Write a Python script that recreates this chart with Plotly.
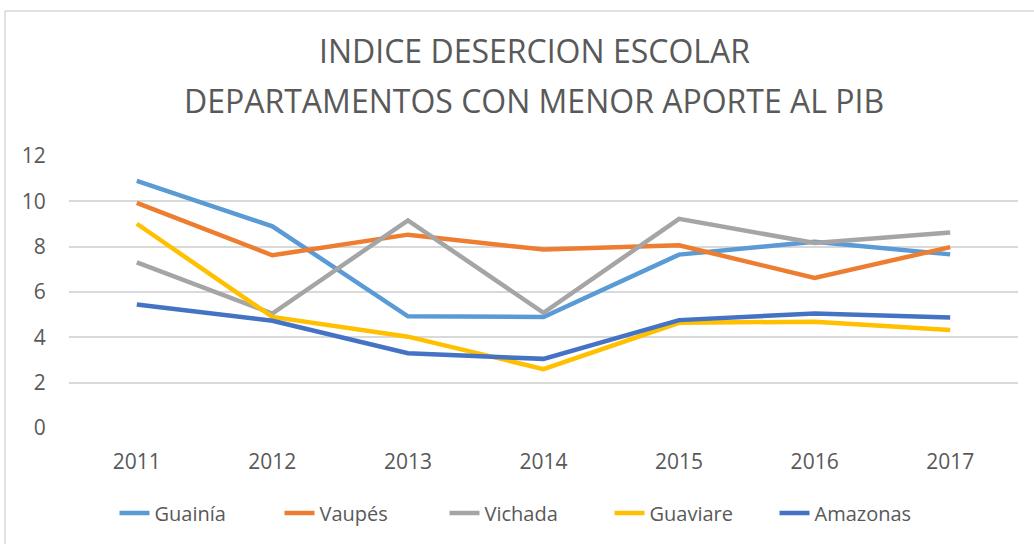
import plotly.graph_objects as go

years = ["2011", "2012", "2013", "2014", "2015", "2016", "2017"]
guainia = [10.9, 8.9, 4.93, 4.9, 7.65, 8.22, 7.66]
vaupes = [9.93, 7.62, 8.53, 7.87, 8.06, 6.62, 7.98]
vichada = [7.31, 5.05, 9.16, 5.08, 9.23, 8.16, 8.63]
guaviare = [9.01, 4.9, 4.03, 2.6, 4.64, 4.69, 4.32]
amazonas = [5.45, 4.73, 3.3, 3.05, 4.76, 5.05, 4.88]
title_lines = ["INDICE DESERCION ESCOLAR", "DEPARTAMENTOS CON MENOR APORTE AL PIB"]

series = [
    ("Guainía", guainia, "#5B9BD5"),
    ("Vaupés", vaupes, "#ED7D31"),
    ("Vichada", vichada, "#A5A5A5"),
    ("Guaviare", guaviare, "#FFC000"),
    ("Amazonas", amazonas, "#4472C4"),
]

FONT = "Open Sans"
TXT = "#595959"
fig = go.Figure()
for name, vals, col in series:
    fig.add_trace(go.Scatter(x=years, y=vals, name=name, mode="lines",
                             line=dict(color=col, width=4.5)))

W, H = 1034, 544
L, R, T, B = 69, 16, 156, 116
pw, ph = W - L - R, H - T - B

def px_x(p):
    return (p - L) / pw

def px_y(p):
    return (H - B - p) / ph

fig.update_layout(
    width=W, height=H,
    margin=dict(l=L, r=R, t=T, b=B),
    paper_bgcolor="white", plot_bgcolor="white",
    font=dict(family=FONT, color=TXT, size=21),
    xaxis=dict(showgrid=False, showline=False, ticks="outside", ticklen=15,
               tickcolor="rgba(0,0,0,0)", tickfont=dict(size=21, color=TXT, family=FONT),
               range=[-0.5, 6.5]),
    yaxis=dict(range=[0, 12], dtick=2, showgrid=True, gridcolor="#D9D9D9", gridwidth=1.5,
               zeroline=False, showline=False, ticks="outside", ticklen=18,
               tickcolor="rgba(0,0,0,0)", tickfont=dict(size=21, color=TXT, family=FONT)),
    legend=dict(orientation="h", x=px_x(527), xanchor="center", y=px_y(513), yanchor="middle",
                font=dict(size=20, color=TXT, family=FONT), tracegroupgap=0,
                entrywidth=120, entrywidthmode="pixels"),
    showlegend=True,
)
for i, (line, ypx) in enumerate(zip(title_lines, [50, 100])):
    fig.add_annotation(text=line, xref="paper", yref="paper", x=px_x(534), y=px_y(ypx),
                       xanchor="center", yanchor="middle", showarrow=False,
                       font=dict(size=32, color=TXT, family=FONT))
fig.add_shape(type="line", xref="paper", yref="paper",
              x0=px_x(5), x1=px_x(5), y0=px_y(544), y1=px_y(11),
              line=dict(color="#D9D9D9", width=1.5))
fig.add_shape(type="line", xref="paper", yref="paper",
              x0=px_x(5), x1=px_x(1034), y0=px_y(11), y1=px_y(11),
              line=dict(color="#D9D9D9", width=1.5))
fig.write_html("out.html")
